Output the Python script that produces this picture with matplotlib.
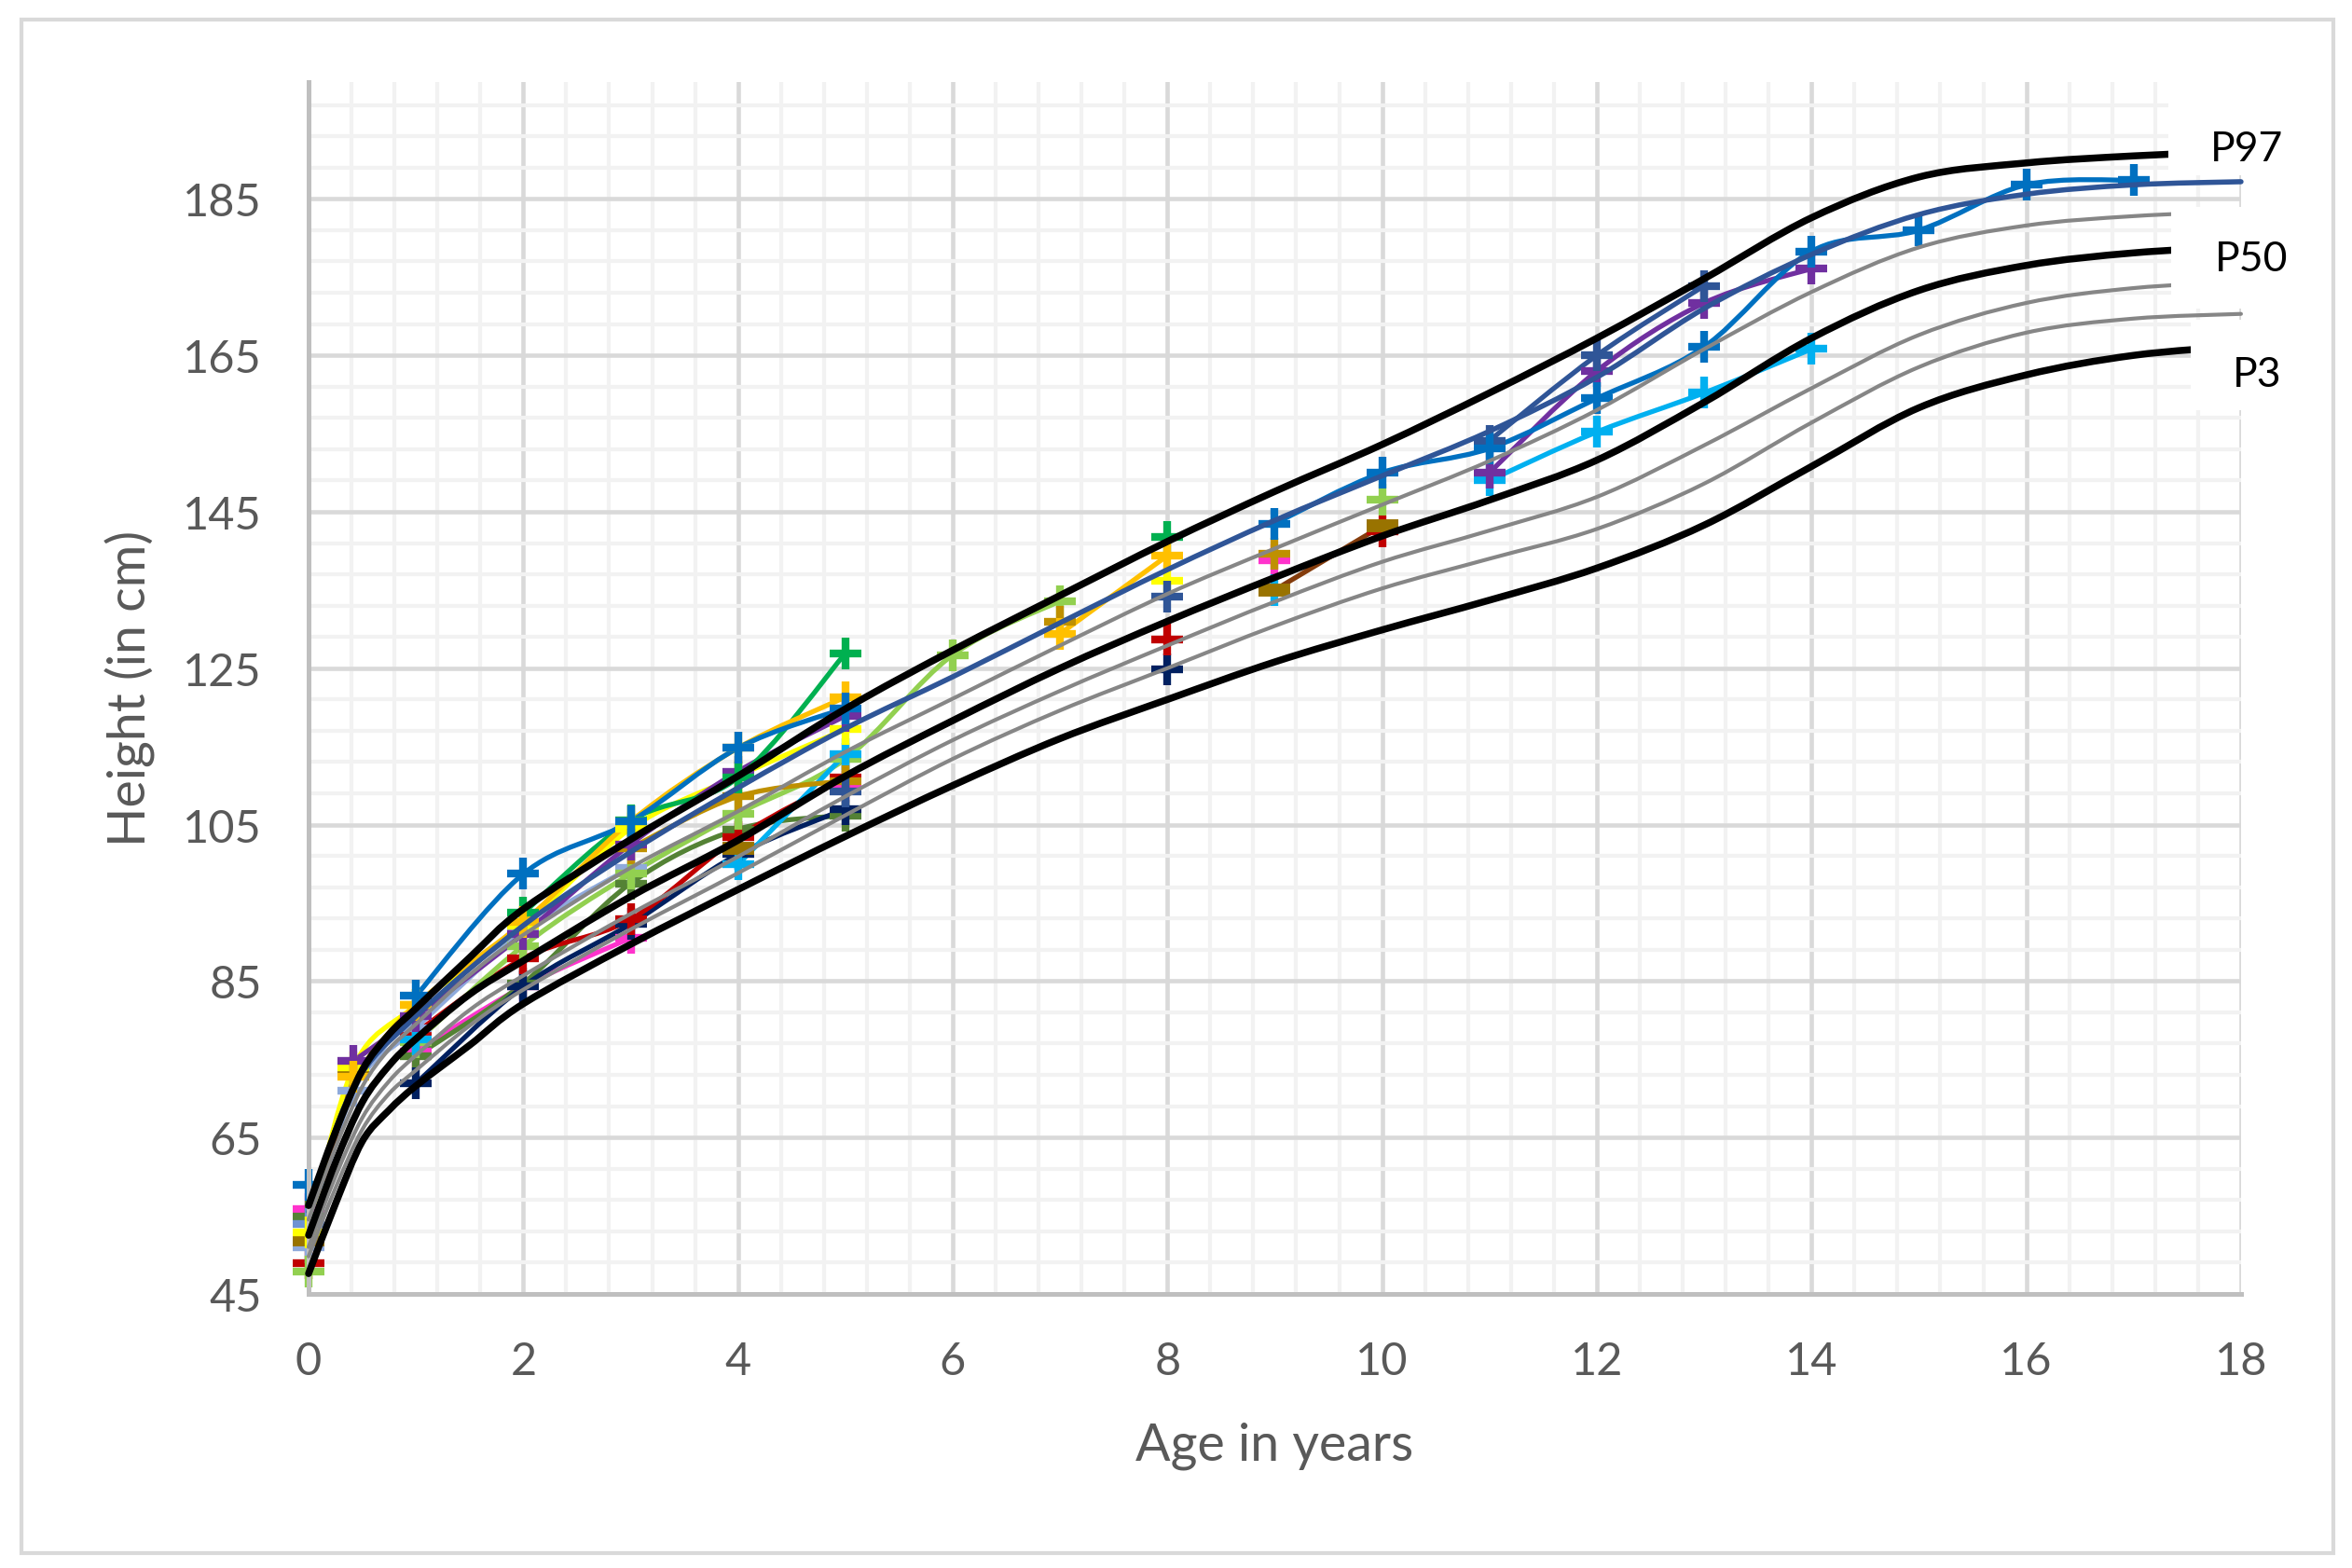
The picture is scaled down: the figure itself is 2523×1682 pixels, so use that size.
import numpy as np
import matplotlib
matplotlib.use("Agg")
import matplotlib.pyplot as plt
from matplotlib.path import Path
from matplotlib.patches import PathPatch, Rectangle

plt.rcParams['font.family'] = ['Lato', 'DejaVu Sans']

n = np.nan

# percentile reference curves
pct_ages = [0, 0.25, 0.5, 0.75, 1, 1.5, 2, 3, 4, 5, 6, 7, 8, 9, 10, 11, 12, 13, 14, 15, 16, 17, 18]
p97 = [56.3, 65.7, 73.6, 78.2, 81.5, 88.0, 94.2, 103.1, 111.2, 119.8, 127.3, 134.3, 141.2, 147.6, 153.6,
       160.2, 167.2, 174.8, 182.6, 187.8, 189.6, 190.5, 191.1]
p90 = [54.5, 63.7, 71.5, 76.3, 79.5, 85.8, 90.9, 99.5, 106.7, 114.3, 121.1, 127.9, 134.5, 140.3, 145.9,
       151.5, 158.0, 165.8, 173.1, 178.8, 181.6, 182.8, 183.4]
p50 = [52.5, 61.8, 69.5, 74.2, 77.6, 83.3, 87.6, 95.8, 103.0, 111.2, 118.3, 125.0, 131.0, 136.6, 141.9,
       146.5, 151.6, 159.0, 167.2, 173.3, 176.5, 178.1, 178.9]
p25 = [51.0, 60.0, 67.5, 72.2, 75.5, 81.3, 85.7, 93.6, 100.9, 108.6, 115.8, 122.1, 127.9, 133.5, 138.6,
       142.6, 146.9, 153.5, 160.8, 167.6, 171.7, 173.6, 174.4]
p10 = [49.8, 58.5, 66.0, 70.6, 73.6, 79.3, 83.9, 91.6, 98.8, 106.2, 113.4, 119.6, 125.0, 130.4, 135.2,
       139.0, 142.8, 148.6, 156.4, 163.5, 167.9, 169.7, 170.3]
p3 = [47.6, 56.5, 64.5, 68.5, 71.6, 76.8, 82.1, 89.7, 96.7, 103.5, 110.0, 116.0, 121.0, 125.8, 129.9,
      133.7, 137.8, 143.3, 150.8, 158.3, 162.5, 165.0, 166.2]

# individual children, measured at these ages
ages = [0, 0.42, 1, 2, 3, 4, 5, 6, 7, 8, 9, 10, 11, 12, 13, 14, 15, 16, 17, 18]
blue = [58.9, n, 83.1, 98.7, 105.4, 114.8, 119.9, n, n, n, 143.5, 150.0, 153.1, 159.5, 166.1, 178.3, 181.0, 186.8, 187.4, n]
green = [n, n, n, 93.7, 105.5, 111.0, 126.9, n, n, 141.8, n, n, n, n, n, n, n, n, n, n]
gold = [n, 72.8, 82.0, 92.5, 105.4, 114.8, 121.3, n, 129.4, 139.4, n, n, n, n, n, n, n, n, n, n]
yellow = [52.9, 74.0, 81.9, 92.1, 104.5, 111.2, 117.2, n, n, 136.2, n, n, n, n, n, n, n, n, n, n]
purple = [n, 74.8, 80.5, 91.0, 102.5, 111.8, 118.9, n, n, n, n, n, 150.0, 163.0, 171.7, 176.1, n, n, n, n]
cyan = [n, n, 77.5, n, n, 99.9, 114.0, n, n, n, 135.0, n, 149.0, 155.2, 160.2, 165.8, n, n, n, n]
red = [48.9, n, 78.4, 87.9, 92.9, 103.4, 111.0, n, n, 128.7, n, 142.5, n, n, n, n, n, n, n, n]
navy = [n, n, 71.9, 84.3, 92.3, 101.2, 107.0, n, n, 124.9, n, n, n, n, n, n, n, n, n, n]
olive = [54.9, n, 75.4, 84.7, 97.5, 104.4, 106.2, n, n, n, n, n, n, n, n, n, n, n, n, n]
pink = [55.9, n, 76.0, 84.3, 90.5, n, 109.8, n, n, n, 138.8, n, n, n, n, n, n, n, n, n]
greyblue = [50.9, 71.0, 79.0, 91.3, 99.5, n, n, n, n, n, n, n, n, n, n, n, n, n, n, n]
steel = [53.9, 73.3, n, n, n, n, n, n, n, n, n, n, n, n, n, n, n, n, n, n]
darkgold = [n, n, n, n, 102.0, 108.6, 110.6, n, 130.9, n, 139.6, n, n, n, n, n, n, n, n, n]
brown = [51.9, 74.0, n, n, n, 102.0, n, n, n, n, 135.0, 143.2, n, n, n, n, n, n, n, n]
lightgreen = [47.8, n, 77.2, 89.5, 98.7, 106.4, 113.4, 126.7, 133.6, n, n, 146.6, n, n, n, n, n, n, n, n]
slate = [n, n, n, n, n, n, 109.2, n, n, 134.1, n, n, 154.1, 165.0, 173.9, n, n, n, n, n]
mean_line = [55.5, 71.5, 80.5, 92.1, 101.5, 109.7, 117.3, 123.9, 130.8, 137.6, 143.9, 149.6, 155.3, 162.2,
             171.0, 177.9, 183.0, 185.6, 186.8, 187.2]

pct_labels = ['P97', 'P50', 'P3']


def smooth(xs, ys):
    # excel-like smoothed line: cubic bezier through the points
    p = np.column_stack([xs, ys])
    verts = [p[0]]
    codes = [Path.MOVETO]
    for i in range(len(p) - 1):
        a = p[i - 1] if i > 0 else p[i]
        d = p[i + 2] if i + 2 < len(p) else p[i + 1]
        verts += [p[i] + (p[i + 1] - a) / 6, p[i + 1] - (d - p[i]) / 6, p[i + 1]]
        codes += [Path.CURVE4] * 3
    return Path(verts, codes)


def draw_line(ax, xs, ys, color, lw, z):
    xs = np.asarray(xs, float)
    ys = np.asarray(ys, float)
    ok = ~np.isnan(ys)
    i = 0
    while i < len(ys):
        if not ok[i]:
            i += 1
            continue
        j = i
        while j + 1 < len(ys) and ok[j + 1]:
            j += 1
        if j > i:
            ax.add_patch(PathPatch(smooth(xs[i:j + 1], ys[i:j + 1]), fill=False, ec=color, lw=lw,
                                   capstyle='round', joinstyle='round', zorder=z, clip_on=False))
        i = j + 1


fig = plt.figure(figsize=(25.23, 16.83), dpi=100)
ax = fig.add_axes([0.1312, 0.1747, 0.8216, 0.7727])

series = [
    (pink, '#FF33CC', '#FF33CC', '+'),
    (olive, '#548235', '#548235', '+'),
    (navy, '#002060', '#002060', '+'),
    (red, '#C00000', '#C00000', '+'),
    (greyblue, '#8FAADC', '#8FAADC', '+'),
    (steel, '#6F93D3', '#6F93D3', '+'),
    (lightgreen, '#92D050', '#92D050', '+'),
    (cyan, '#00B0F0', '#00B0F0', '+'),
    (darkgold, '#BF9000', '#BF9000', '+'),
    (brown, '#843C0C', '#997300', '_'),
    (yellow, '#FFFF00', '#FFFF00', '+'),
    (purple, '#7030A0', '#7030A0', '+'),
    (green, '#00B050', '#00B050', '+'),
    (gold, '#FFC000', '#FFC000', '+'),
    (slate, '#2F5597', '#2F5597', '+'),
    (blue, '#0070C0', '#0070C0', '+'),
]
for vals, lc, mc, mk in series:
    draw_line(ax, ages, vals, lc, 3.8, 2)
    ax.plot(ages, vals, ls='none', marker=mk, ms=24, mew=10 if mk == '_' else 6,
            color=mc, zorder=2.2, clip_on=False)

draw_line(ax, ages, mean_line, '#2F5597', 4.0, 2.5)

for vals, col, lw in [(p3, 'black', 5.4), (p10, '#868686', 3.0), (p25, '#868686', 3.0),
                      (p50, 'black', 5.4), (p90, '#868686', 3.0), (p97, 'black', 5.4)]:
    draw_line(ax, pct_ages, vals, col, lw, 3)

ax.set_xlim(0, 18)
ax.set_ylim(45, 200)
ax.set_xticks(np.arange(0, 19, 2))
ax.set_yticks(np.arange(45, 200, 20))
ax.set_xticks([v for v in np.arange(0, 18.01, 0.4) if abs(v / 2 - round(v / 2)) > 1e-6], minor=True)
ax.set_yticks([v for v in np.arange(45, 200.1, 4) if (v - 45) % 20 != 0], minor=True)
ax.grid(which='major', color='#d9d9d9', lw=3.3)
ax.grid(which='minor', color='#f2f2f2', lw=3.0)
ax.set_axisbelow(True)
ax.tick_params(which='both', length=0)
ax.tick_params(axis='x', labelsize=35, labelcolor='#595959', pad=36)
ax.tick_params(axis='y', labelsize=35, labelcolor='#595959', pad=36)
for s in ['top', 'right']:
    ax.spines[s].set_visible(False)
for s in ['left', 'bottom']:
    ax.spines[s].set_color('#bfbfbf')
    ax.spines[s].set_linewidth(3.6)

ax.set_xlabel('Age in years', fontsize=40, color='#595959')
ax.set_ylabel('Height (in cm)', fontsize=40, color='#595959')
ax.xaxis.set_label_coords(0.5, -0.105)
ax.yaxis.set_label_coords(-0.079, 0.5)

# white label boxes at the right end of the curves
boxes = [(17.32, 188.0, 1.52, 12.5), (17.35, 171.0, 1.5, 13.0), (17.53, 158.0, 1.32, 11.6)]
label_pos = [(18.05, 191.4), (18.1, 177.4), (18.15, 162.6)]
for (bx, by, bw, bh), (tx, ty), lab in zip(boxes, label_pos, pct_labels):
    ax.add_patch(Rectangle((bx, by), bw, bh, fc='white', ec='none', zorder=10, clip_on=False))
    ax.text(tx, ty, lab, fontsize=32, color='black', ha='center', va='center', zorder=11)

fig.add_artist(Rectangle((23 / 2523, 1 - 1667 / 1683), 2480 / 2523, 1645 / 1683,
                         transform=fig.transFigure, fill=False, ec='#d9d9d9', lw=3))

plt.savefig('out.png', dpi=100)
